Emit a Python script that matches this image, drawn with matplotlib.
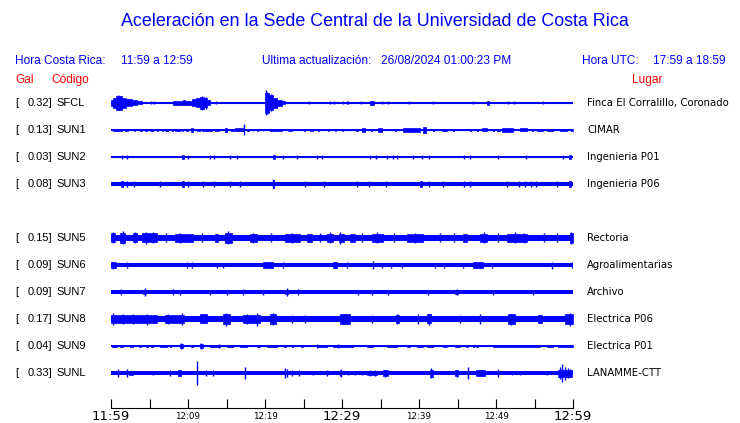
import matplotlib
matplotlib.use('Agg')
import matplotlib.pyplot as plt
from matplotlib.transforms import blended_transform_factory

# Station rows (the SUN4 slot is empty in the record)
CODES = ['SFCL', 'SUN1', 'SUN2', 'SUN3', None, 'SUN5', 'SUN6', 'SUN7', 'SUN8', 'SUN9', 'SUNL']
GAL = [0.32, 0.13, 0.03, 0.08, None, 0.15, 0.09, 0.09, 0.17, 0.04, 0.33]
PLACES = ['Finca El Corralillo, Coronado', 'CIMAR', 'Ingenieria P01', 'Ingenieria P06', None,
          'Rectoria', 'Agroalimentarias', 'Archivo', 'Electrica P06', 'Electrica P01', 'LANAMME-CTT']

# background noise half-amplitude of each trace (display units, 27 units = row spacing)
BASE = [0.5, 0.5, 0.6, 1.8, None, 3.2, 2.1, 1.6, 3.4, 0.7, 1.8]

# time axis, minutes after 11:59
TICK_MIN = list(range(0, 61, 5))
LABEL_MIN = [0, 10, 20, 30, 40, 50, 60]
LABEL_TXT = ['11:59', '12:09', '12:19', '12:29', '12:39', '12:49', '12:59']
BIG_LABELS = ['11:59', '12:29', '12:59']

# bursts: (start min, end min, half amplitude); spikes: (min, half amplitude)
SFCL_SEGS = [(0.0, 0.3, 3), (0.3, 0.7, 5), (0.7, 1.4, 7), (1.4, 2.0, 5), (2.0, 2.7, 3.5),
             (2.7, 3.4, 2.5), (3.4, 4.0, 1.5), (8.1, 10.5, 1.8), (9.3, 9.6, 2.5),
             (10.5, 11.0, 3.5), (11.0, 11.5, 4.5), (11.5, 12.1, 6), (12.1, 12.5, 4.5),
             (12.5, 12.9, 2.5), (20.0, 20.5, 10), (20.5, 21.0, 7.5), (21.0, 21.6, 5),
             (21.6, 22.2, 3), (22.2, 22.6, 1.5), (33.7, 34.2, 2), (48.8, 49.1, 2)]
SFCL_SPIKES = [(0.9, 7.5), (1.2, 6.5), (5.2, 1.5), (5.6, 1.5), (11.8, 7), (12.3, 6), (13.7, 1.5),
               (20.1, 12.5), (20.3, 11), (20.8, 8.5), (25.7, 1.5), (28.4, 1.5), (29.0, 1.5),
               (30.1, 1.5), (30.65, 1.5), (30.8, 1.5), (32.5, 1.5), (35.2, 1.5), (36.0, 1.5),
               (38.7, 1.5), (41.8, 1.5), (47.0, 1.5), (51.6, 1.5), (52.3, 1.5), (56.1, 1.5)]

SUN1_SEGS = [(0.3, 1.4, 1.3), (1.8, 2.2, 1.3), (3.0, 3.1, 1.3), (3.8, 4.0, 1.3), (4.4, 4.7, 1.3),
             (5.1, 5.4, 1.3), (6.0, 6.1, 1.3), (6.6, 6.7, 1.3), (7.0, 7.4, 1.3), (7.9, 8.0, 1.3),
             (8.3, 9.0, 1.3), (9.2, 9.4, 1.3), (9.7, 10.0, 1.3), (10.4, 10.7, 2), (11.2, 11.6, 1.3),
             (11.8, 13.1, 1.3), (13.5, 14.0, 1.3), (14.8, 15.1, 2), (15.6, 16.0, 1.3),
             (16.1, 17.1, 1.5), (17.7, 17.9, 1.3), (18.4, 18.5, 1.3), (19.0, 19.1, 1.3),
             (19.7, 19.8, 1.3), (20.7, 22.2, 1.3), (23.0, 23.5, 1.3), (25.1, 25.2, 1.3),
             (25.8, 26.2, 1.3), (26.9, 27.0, 1.3), (28.2, 28.3, 1.3), (29.1, 29.2, 1.3),
             (30.0, 30.1, 1.3), (30.6, 30.7, 1.3), (31.8, 32.1, 1.3), (32.6, 33.0, 1.8),
             (33.8, 33.9, 1.3), (34.7, 35.2, 1.8), (36.9, 37.0, 1.3), (37.9, 40.1, 1.8),
             (40.5, 40.9, 3), (41.8, 41.9, 1.3), (43.0, 43.6, 1.3), (44.4, 44.5, 1.3),
             (46.6, 46.7, 1.3), (47.5, 47.7, 1.3), (48.2, 48.8, 1.5), (49.6, 49.7, 1.3),
             (50.1, 50.5, 1.3), (50.8, 52.2, 1.8), (53.1, 54.0, 1.5), (54.7, 54.8, 1.3),
             (55.3, 56.1, 1.3), (56.6, 57.4, 1.3), (58.3, 59.2, 1.3), (59.8, 60.0, 1.3)]
SUN1_SPIKES = [(17.27, 5.5)]

SUN2_SEGS = [(9.2, 9.5, 2), (21.0, 21.3, 2), (59.5, 59.8, 2)]
SUN2_SPIKES = [(1.39, 1.6), (2.12, 1.6), (10.04, 1.6), (12.86, 1.6), (13.38, 1.6), (15.45, 1.6),
               (16.4, 1.6), (22.38, 1.6), (24.2, 1.6), (26.8, 1.6), (27.36, 1.6), (33.64, 1.6),
               (34.38, 1.6), (35.8, 1.6), (36.66, 1.6), (37.18, 1.6), (39.18, 1.6), (40.35, 1.6),
               (41.34, 1.6), (45.84, 1.6), (46.62, 1.6), (50.3, 1.6), (53.9, 1.6), (58.66, 1.6)]

SUN3_SEGS = [(1.3, 1.6, 3), (9.2, 9.5, 3), (21.0, 21.2, 4), (40.1, 40.4, 3), (59.5, 59.8, 3)]
SUN3_SPIKES = [(2.12, 3), (3.03, 3), (6.36, 3), (10.04, 3), (11.99, 3), (13.38, 3), (15.45, 3),
               (16.75, 3), (21.1, 4.5), (25.19, 3), (27.66, 3), (31.99, 3), (33.55, 3), (35.71, 3),
               (41.34, 3), (43.16, 3), (45.84, 3), (46.62, 3), (51.39, 3), (53.03, 3), (53.77, 3),
               (54.51, 3), (55.19, 3), (57.88, 3)]

SUN5_SEGS = [(0.0, 0.5, 4.5), (1.2, 1.8, 5), (2.9, 3.4, 4.5), (4.0, 6.0, 4.5), (8.3, 10.6, 4.0),
             (13.5, 13.9, 4.0), (14.8, 15.7, 5), (18.0, 19.0, 4.0), (22.6, 24.5, 4.0),
             (25.4, 26.1, 3.9), (28.0, 28.8, 4.3), (29.6, 30.2, 4.3), (31.0, 31.7, 4.0),
             (33.9, 35.3, 4.3), (38.4, 40.5, 4.0), (45.7, 46.2, 4.0), (47.9, 48.8, 4.3),
             (51.4, 54.0, 4.3), (59.6, 60.0, 5)]
SUN5_SPIKES = [(0.3, 5.5), (1.5, 6.5), (3.1, 5.5), (4.5, 6), (5.5, 5.5), (7.2, 4.5), (9.0, 5),
               (11.8, 4.5), (15.2, 6.5), (18.5, 5), (20.8, 4.5), (23.5, 5), (27.1, 4.5),
               (28.4, 5.5), (29.7, 6), (32.6, 4.5), (34.5, 5.5), (36.8, 4.5), (39.5, 5),
               (42.7, 4.5), (44.6, 4.5), (48.4, 5.5), (50.3, 4.5), (52.5, 5.5), (53.6, 5),
               (56.2, 4.5), (57.9, 4.5), (59.8, 6)]

SUN6_SEGS = [(0.0, 0.65, 3.2), (19.7, 21.0, 2.6), (28.8, 29.4, 3), (47.0, 48.3, 2.6)]
SUN6_SPIKES = [(0.3, 3.5), (2.08, 3), (9.87, 3), (10.52, 3), (13.77, 2.5), (14.55, 2.5),
               (22.34, 3), (30.65, 3), (34.03, 4), (35.19, 2.5), (36.36, 2.5), (37.79, 2.5),
               (42.08, 2.5), (43.25, 2.5), (45.71, 2.5), (49.48, 2.5), (57.27, 3.5), (59.87, 3)]

SUN7_SEGS = [(4.2, 4.6, 2.2), (22.6, 23.0, 2.2), (44.7, 45.1, 2)]
SUN7_SPIKES = [(1.3, 3), (4.42, 4), (8.05, 3), (8.96, 2.5), (12.86, 2.5), (15.06, 2.5),
               (17.14, 3), (19.74, 2.5), (22.86, 4), (24.29, 3), (32.08, 2.5), (33.9, 2.5),
               (35.97, 2.5), (41.17, 2.5), (44.94, 3), (49.61, 2.5), (54.81, 2.5)]

SUN8_SEGS = [(0.0, 6.0, 4.2), (7.0, 9.5, 4.0), (11.6, 12.5, 4.5), (14.5, 15.5, 4.6),
             (17.2, 19.3, 4.3), (20.7, 21.4, 4.6), (29.7, 31.0, 4.6), (37.0, 37.4, 4.3),
             (41.0, 41.6, 4.5), (51.5, 52.5, 4.8), (55.4, 56.0, 4.3), (59.0, 60.0, 4.8)]
SUN8_SPIKES = [(0.26, 6), (1.5, 5), (2.86, 5), (4.68, 5.5), (7.4, 5), (9.22, 6), (14.94, 6.5),
               (17.66, 5), (18.96, 6.5), (21.04, 6), (23.51, 4.5), (25.19, 4.5), (30.2, 5),
               (33.9, 4.5), (37.14, 5), (39.87, 5), (41.3, 5.5), (45.32, 4.5), (47.92, 5),
               (52.0, 5.5), (55.71, 4.5), (59.6, 6.5)]

SUN9_SEGS = [(0.13, 0.78, 1.4), (1.17, 1.56, 1.4), (2.47, 2.86, 1.4), (3.7, 3.85, 1.4),
             (4.6, 4.75, 1.4), (5.25, 5.4, 1.4), (6.36, 7.27, 1.4), (7.6, 7.75, 1.4),
             (8.96, 9.35, 1.8), (10.45, 10.6, 1.4), (11.56, 11.95, 1.8), (12.86, 14.16, 1.4),
             (15.06, 15.84, 1.4), (16.75, 17.66, 1.4), (18.96, 19.35, 1.4), (20.26, 21.56, 1.4),
             (22.5, 22.7, 1.4), (23.55, 23.7, 1.4), (24.7, 24.9, 1.4), (26.75, 28.05, 1.4),
             (28.83, 31.43, 1.4), (33.25, 34.03, 1.4), (35.84, 37.14, 1.4), (38.44, 38.83, 1.4),
             (39.74, 40.52, 1.4), (41.04, 41.82, 1.4), (43.12, 43.64, 1.4), (44.68, 45.32, 1.4),
             (46.15, 46.3, 1.4), (46.95, 47.1, 1.4), (47.45, 47.6, 1.4), (49.61, 55.71, 1.4),
             (56.62, 57.4, 1.4), (58.05, 60.0, 1.4)]
SUN9_SPIKES = [(9.1, 2.5), (11.7, 2.5), (14.0, 2), (26.8, 2), (29.5, 2)]

SUNL_SEGS = [(2.34, 2.86, 2.2), (8.7, 9.09, 3), (33.25, 34.55, 2.4), (35.32, 35.97, 3),
             (41.43, 41.82, 3.5), (44.68, 45.06, 3.2), (47.4, 48.57, 2.6), (58.05, 59.87, 3.5)]
SUNL_SPIKES = [(0.95, 4.3), (2.12, 4), (5.42, 2.2), (7.66, 2.5), (8.9, 3.3), (11.13, 12),
               (12.34, 2.5), (13.21, 2.5), (17.4, 5.5), (22.6, 5), (22.86, 4.5), (23.47, 2.5),
               (24.45, 3), (26.19, 2.4), (28.01, 2.5), (29.74, 3), (29.83, 4.5), (30.78, 2.2),
               (31.69, 2.4), (32.56, 2.4), (33.6, 3), (34.3, 3), (35.6, 3.5), (41.6, 5),
               (44.9, 3.5), (46.32, 6), (47.8, 3.3), (48.3, 3.3), (50.3, 4.5), (52.12, 2.4),
               (53.12, 2.4), (56.58, 2), (58.3, 6), (58.57, 8.7), (58.9, 6.5), (59.3, 5),
               (59.6, 4.5)]

SEGS = {'SFCL': SFCL_SEGS, 'SUN1': SUN1_SEGS, 'SUN2': SUN2_SEGS, 'SUN3': SUN3_SEGS,
        'SUN5': SUN5_SEGS, 'SUN6': SUN6_SEGS, 'SUN7': SUN7_SEGS, 'SUN8': SUN8_SEGS,
        'SUN9': SUN9_SEGS, 'SUNL': SUNL_SEGS}
SPIKES = {'SFCL': SFCL_SPIKES, 'SUN1': SUN1_SPIKES, 'SUN2': SUN2_SPIKES, 'SUN3': SUN3_SPIKES,
          'SUN5': SUN5_SPIKES, 'SUN6': SUN6_SPIKES, 'SUN7': SUN7_SPIKES, 'SUN8': SUN8_SPIKES,
          'SUN9': SUN9_SPIKES, 'SUNL': SUNL_SPIKES}

ROW_UNITS = 27.0
BLUE = '#0000ff'
W, H = 740, 423
HEAD_FONT = 'Liberation Sans'


def fx(px):
    return px / W


def fy(py):
    return 1 - py / H


fig = plt.figure(figsize=(W / 100, H / 100), dpi=100)

# trace axes: x = minutes, y = row index (row 0 on top)
ax = fig.add_axes([fx(111), fy(408), fx(573) - fx(111), fy(76) - fy(408)])
ax.set_xlim(0, 60)
ax.set_ylim((408 - 103) / ROW_UNITS, -1)

for i, code in enumerate(CODES):
    if code is None:
        continue
    b = BASE[i] / ROW_UNITS
    ax.fill_between([0, 60], i - b, i + b, color=BLUE, lw=0)
    ax.plot([0, 60], [i, i], color=BLUE, lw=0.8)
    for s, e, a in SEGS[code]:
        ax.fill_between([s, e], i - a / ROW_UNITS, i + a / ROW_UNITS,
                        color=BLUE, lw=0.5, edgecolor=BLUE)
    ts = [t for t, a in SPIKES[code]]
    amps = [a / ROW_UNITS for t, a in SPIKES[code]]
    ax.vlines(ts, [i - a for a in amps], [i + a for a in amps], color=BLUE, lw=1.0)

for side in ['top', 'left', 'right']:
    ax.spines[side].set_visible(False)
ax.spines['bottom'].set_color('black')
ax.spines['bottom'].set_linewidth(0.8)
ax.set_yticks([])
ax.set_xticks(TICK_MIN)
ax.set_xticklabels([])
ax.tick_params(axis='x', direction='in', length=6.5, width=0.8, color='black')

# time labels under the axis
lab_tr = blended_transform_factory(ax.transData, fig.transFigure)
for m, txt in zip(LABEL_MIN, LABEL_TXT):
    big = txt in BIG_LABELS
    fig.text(m, fy(416), txt, transform=lab_tr, ha='center', va='center',
             fontsize=9.5 if big else 6.3, family='DejaVu Sans', color='black')

# title and header lines
fig.text(fx(375), fy(22), 'Aceleración en la Sede Central de la Universidad de Costa Rica',
         ha='center', va='center', fontsize=12.9, color=BLUE, family=HEAD_FONT)
head = [(15, 'Hora Costa Rica:'), (121, '11:59 a 12:59'),
        (262, 'Ultima actualización:'), (381, '26/08/2024 01:00:23 PM'),
        (582, 'Hora UTC:'), (653, '17:59 a 18:59')]
for x, txt in head:
    fig.text(fx(x), fy(61), txt, ha='left', va='center', fontsize=8.6,
             color=BLUE, family=HEAD_FONT)
for x, txt in [(15, 'Gal'), (51, 'Código'), (632, 'Lugar')]:
    fig.text(fx(x), fy(80), txt, ha='left', va='center', fontsize=8.6,
             color='red', family=HEAD_FONT)

# station labels, tied to the trace rows
row_tr = blended_transform_factory(fig.transFigure, ax.transData)
for i, code in enumerate(CODES):
    if code is None:
        continue
    fig.text(fx(15), i, '[', transform=row_tr, ha='left', va='center',
             fontsize=8, family=HEAD_FONT)
    fig.text(fx(52), i, f'{GAL[i]:.2f}]', transform=row_tr, ha='right', va='center',
             fontsize=8, family=HEAD_FONT)
    fig.text(fx(56), i, code, transform=row_tr, ha='left', va='center',
             fontsize=8, family=HEAD_FONT)
    fig.text(fx(587), i, PLACES[i], transform=row_tr, ha='left', va='center',
             fontsize=7.3, family='DejaVu Sans')

fig.savefig('out.png', dpi=100)
